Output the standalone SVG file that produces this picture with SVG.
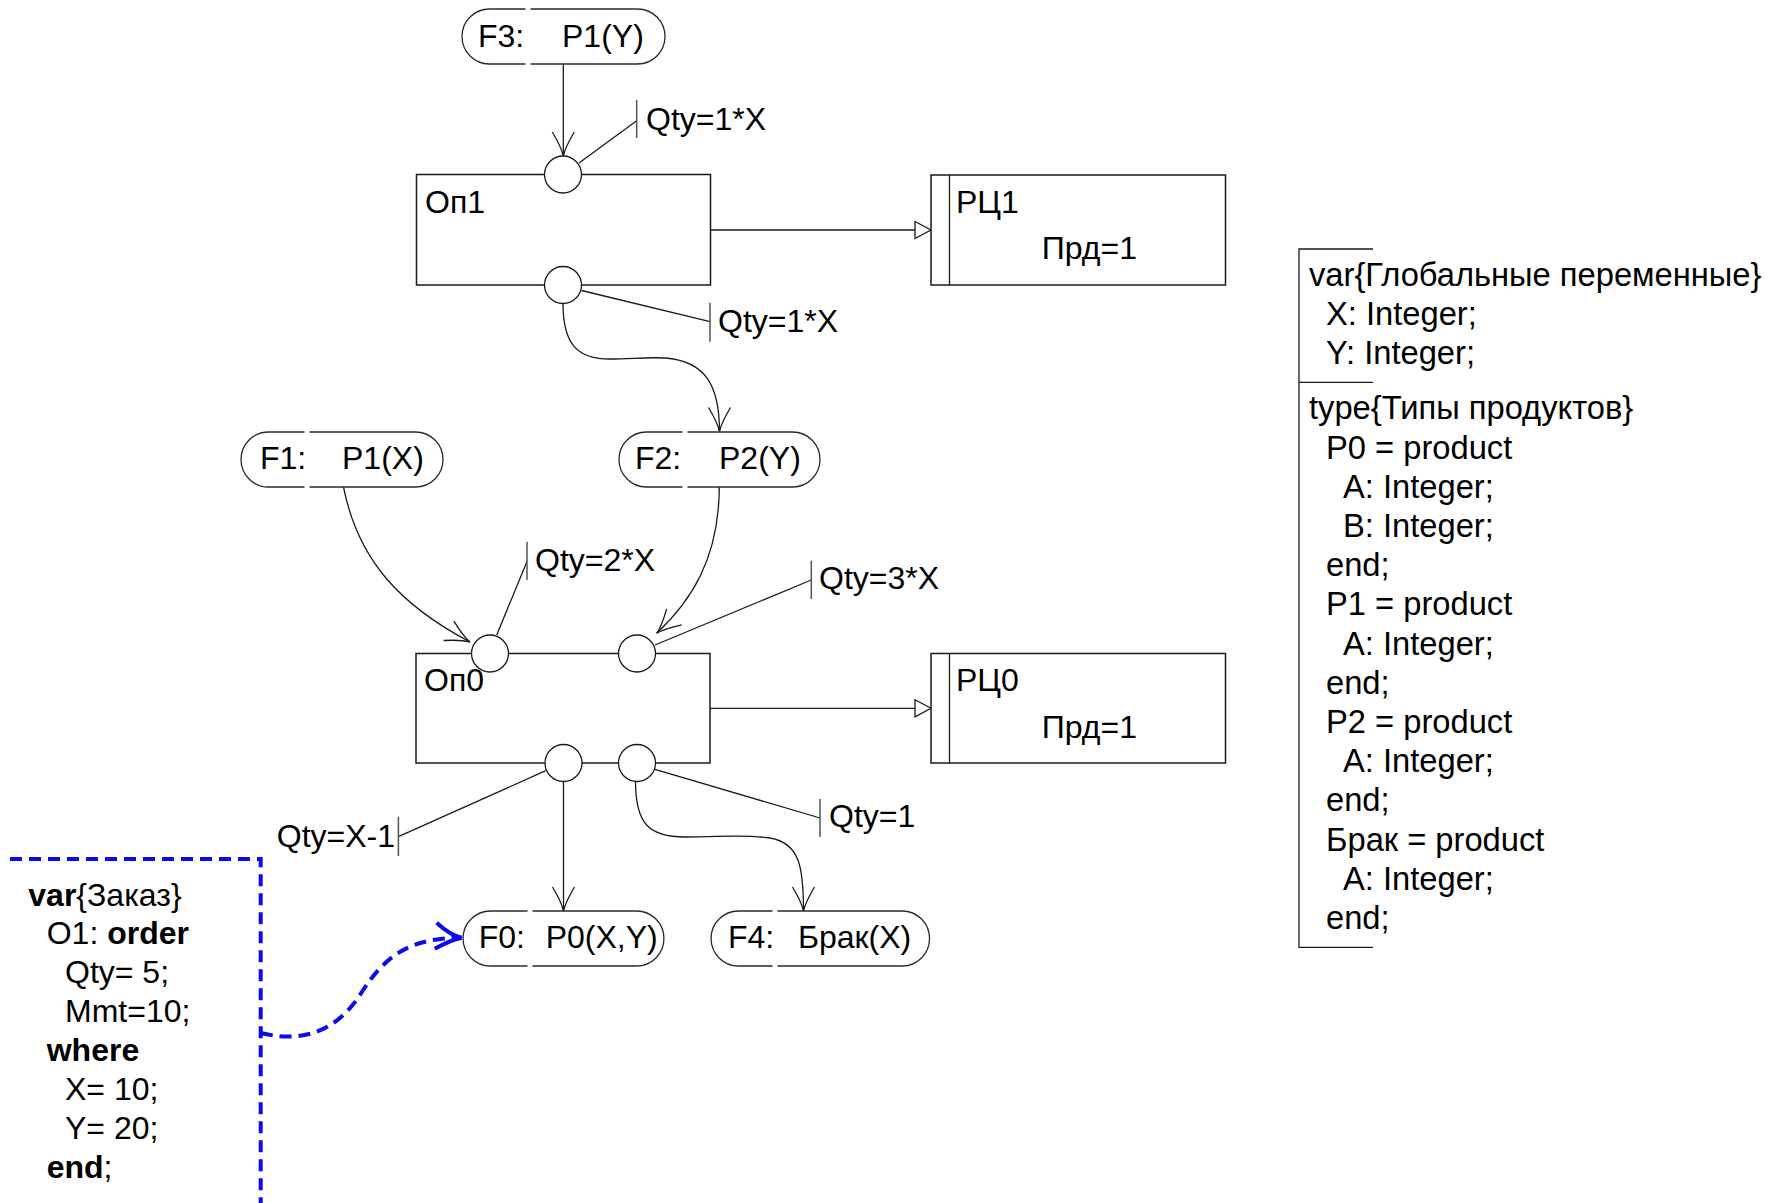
<svg xmlns="http://www.w3.org/2000/svg" width="1776" height="1203" viewBox="0 0 1776 1203">
<defs>
<style>
text{font-family:"Liberation Sans",Arial,sans-serif;font-size:32px;fill:#000}
.b{font-weight:bold}
.decl text{font-size:32.7px}
.ln{fill:none;stroke:#1a1a1a;stroke-width:1.3}
.box{fill:#fff;stroke:#1a1a1a;stroke-width:1.5}
.pill{fill:none;stroke:#2a2a2a;stroke-width:1.3}
.port{fill:#fff;stroke:#1a1a1a;stroke-width:1.3}
.tick{fill:none;stroke:#555;stroke-width:1.5}
.blue{fill:none;stroke:#0a0aee;stroke-width:4;stroke-dasharray:12 7}
.tri{fill:#fff;stroke:#1a1a1a;stroke-width:1.3}
</style>
<marker id="fork" markerUnits="userSpaceOnUse" orient="auto" refX="0" refY="0" markerWidth="40" markerHeight="40" overflow="visible">
<path d="M-24,-11 Q-9,-2 0,0 M-24,11 Q-9,2 0,0" fill="none" stroke="#1a1a1a" stroke-width="1.3"/>
</marker>
<marker id="bfork" markerUnits="userSpaceOnUse" orient="auto" refX="0" refY="0" markerWidth="40" markerHeight="40" overflow="visible">
<path d="M-25,-15 Q-11,-2 0,0 M-27,11 Q-11,2 0,0" fill="none" stroke="#0a0aee" stroke-width="4"/>
</marker>
</defs>
<rect width="1776" height="1203" fill="#fff"/>

<g id="connectors">
<path class="ln" d="M563.3,64 V156" marker-end="url(#fork)"/>
<path class="ln" d="M563,303.5 C563,345 578,359 610,359 C630,359 648,357 665,358 C705,361 719.5,385 719.5,431.5" marker-end="url(#fork)"/>
<path class="ln" d="M343.5,487 C358,560 400,605 470,642" marker-end="url(#fork)"/>
<path class="ln" d="M719.3,487 C719,560 690,602 656.7,633.3" marker-end="url(#fork)"/>
<path class="ln" d="M563.5,781.5 V911" marker-end="url(#fork)"/>
<path class="ln" d="M635.5,781.5 C635.5,825 650,837 685,837 C720,837 745,834 770,838 C800,843 803.5,868 803.5,911" marker-end="url(#fork)"/>
<path class="ln" d="M710,230 H915"/>
<polygon class="tri" points="915,221.5 931,230 915,238.5"/>
<path class="ln" d="M710,708.3 H915"/>
<polygon class="tri" points="915,699.8 931,708.3 915,716.8"/>
<path class="ln" d="M579,163 L636.7,120.7"/>
<path class="tick" d="M636.7,100 V138"/>
<path class="ln" d="M581.5,290.5 L710,321.7"/>
<path class="tick" d="M710,302.7 V341.7"/>
<path class="ln" d="M496.7,635 L527,561.5"/>
<path class="tick" d="M527,541.7 V580"/>
<path class="ln" d="M655,645 L811.3,580"/>
<path class="tick" d="M811.3,560.7 V599"/>
<path class="ln" d="M545.7,770.7 L398.4,836.7"/>
<path class="tick" d="M398.4,816.7 V856"/>
<path class="ln" d="M655,769.3 L820,818"/>
<path class="tick" d="M820,799 V837"/>
<path class="blue" d="M10,859 H260.7 V1203"/>
<path class="blue" d="M260.7,1033 C310,1045 340,1025 360,995 C385,955 410,938 461.7,937.7" marker-end="url(#bfork)"/>
</g>

<g id="labels">
<text x="646" y="130">Qty=1*X</text>
<text x="718" y="332">Qty=1*X</text>
<text x="535" y="571">Qty=2*X</text>
<text x="819" y="589">Qty=3*X</text>
<text x="395" y="847" text-anchor="end">Qty=X-1</text>
<text x="829" y="827">Qty=1</text>
</g>

<g id="F3">
<path class="pill" d="M525.5,9 H489.5 A27.5,27.5 0 0 0 489.5,64 H525.5"/>
<path class="pill" d="M530.5,9 H637.5 A27.5,27.5 0 0 1 637.5,64 H530.5"/>
<text x="478" y="46.5">F3:</text>
<text x="562" y="46.5">P1(Y)</text>
</g>
<g id="F1">
<path class="pill" d="M304.5,432 H268.5 A27.5,27.5 0 0 0 268.5,487 H304.5"/>
<path class="pill" d="M309.5,432 H415.5 A27.5,27.5 0 0 1 415.5,487 H309.5"/>
<text x="260" y="469">F1:</text>
<text x="342" y="469">P1(X)</text>
</g>
<g id="F2">
<path class="pill" d="M682.5,432 H646.5 A27.5,27.5 0 0 0 646.5,487 H682.5"/>
<path class="pill" d="M687.5,432 H792.5 A27.5,27.5 0 0 1 792.5,487 H687.5"/>
<text x="635" y="469">F2:</text>
<text x="719" y="469">P2(Y)</text>
</g>
<g id="F0">
<path class="pill" d="M527.5,911 H490.5 A27.5,27.5 0 0 0 490.5,966 H527.5"/>
<path class="pill" d="M532.5,911 H636.5 A27.5,27.5 0 0 1 636.5,966 H532.5"/>
<text x="478.7" y="948.3">F0:</text>
<text x="545.7" y="948.3">P0(X,Y)</text>
</g>
<g id="F4">
<path class="pill" d="M772.5,911 H738.5 A27.5,27.5 0 0 0 738.5,966 H772.5"/>
<path class="pill" d="M777.5,911 H902.1 A27.5,27.5 0 0 1 902.1,966 H777.5"/>
<text x="728" y="948.3">F4:</text>
<text x="798" y="948.3">Брак(X)</text>
</g>

<g id="Op1">
<rect class="box" x="416.5" y="174.5" width="294" height="110.5"/>
<circle class="port" cx="563" cy="174.5" r="18.5"/>
<circle class="port" cx="563" cy="285" r="18.5"/>
<text x="425" y="213">Оп1</text>
</g>
<g id="RC1">
<rect class="box" x="931" y="175" width="294.5" height="110"/>
<path class="ln" d="M949.5,175 V285"/>
<text x="956" y="213">РЦ1</text>
<text x="1041.8" y="259.3">Прд=1</text>
</g>
<g id="Op0">
<rect class="box" x="416" y="653.5" width="294" height="109.5"/>
<text x="424" y="691">Оп0</text>
<circle class="port" cx="490" cy="653.5" r="18.5"/>
<circle class="port" cx="637" cy="653.5" r="18.5"/>
<circle class="port" cx="563.5" cy="763" r="18.5"/>
<circle class="port" cx="637" cy="763" r="18.5"/>
</g>
<g id="RC0">
<rect class="box" x="931" y="653.5" width="294.5" height="109.5"/>
<path class="ln" d="M949.5,653.5 V763"/>
<text x="956" y="691">РЦ0</text>
<text x="1041.8" y="737.5">Прд=1</text>
</g>

<g id="order">
<text x="28.3" y="906">
<tspan class="b">var</tspan>{Заказ}</text>
<text x="46.7" y="944">O1: <tspan class="b">order</tspan></text>
<text x="65" y="982.5">Qty= 5;</text>
<text x="65" y="1021.5">Mmt=10;</text>
<text x="46.7" y="1061" class="b">where</text>
<text x="65" y="1100">X= 10;</text>
<text x="65" y="1138.6">Y= 20;</text>
<text x="46.7" y="1178"><tspan class="b">end</tspan>;</text>
</g>

<g id="declarations" class="decl">
<path class="ln" d="M1373,249 H1299 V947.3 H1373 M1299,382.3 H1373"/>
<text x="1309" y="285.5">var{Глобальные переменные}</text>
<text x="1326" y="324.7">X: Integer;</text>
<text x="1326" y="363.9">Y: Integer;</text>
<text x="1309" y="419.3">type{Типы продуктов}</text>
<text x="1326" y="458.5">P0 = product</text>
<text x="1343" y="497.7">A: Integer;</text>
<text x="1343" y="536.9">B: Integer;</text>
<text x="1326" y="576.1">end;</text>
<text x="1326" y="615.3">P1 = product</text>
<text x="1343" y="654.5">A: Integer;</text>
<text x="1326" y="693.7">end;</text>
<text x="1326" y="732.9">P2 = product</text>
<text x="1343" y="772.1">A: Integer;</text>
<text x="1326" y="811.3">end;</text>
<text x="1326" y="850.5">Брак = product</text>
<text x="1343" y="889.7">A: Integer;</text>
<text x="1326" y="928.9">end;</text>
</g>
</svg>
